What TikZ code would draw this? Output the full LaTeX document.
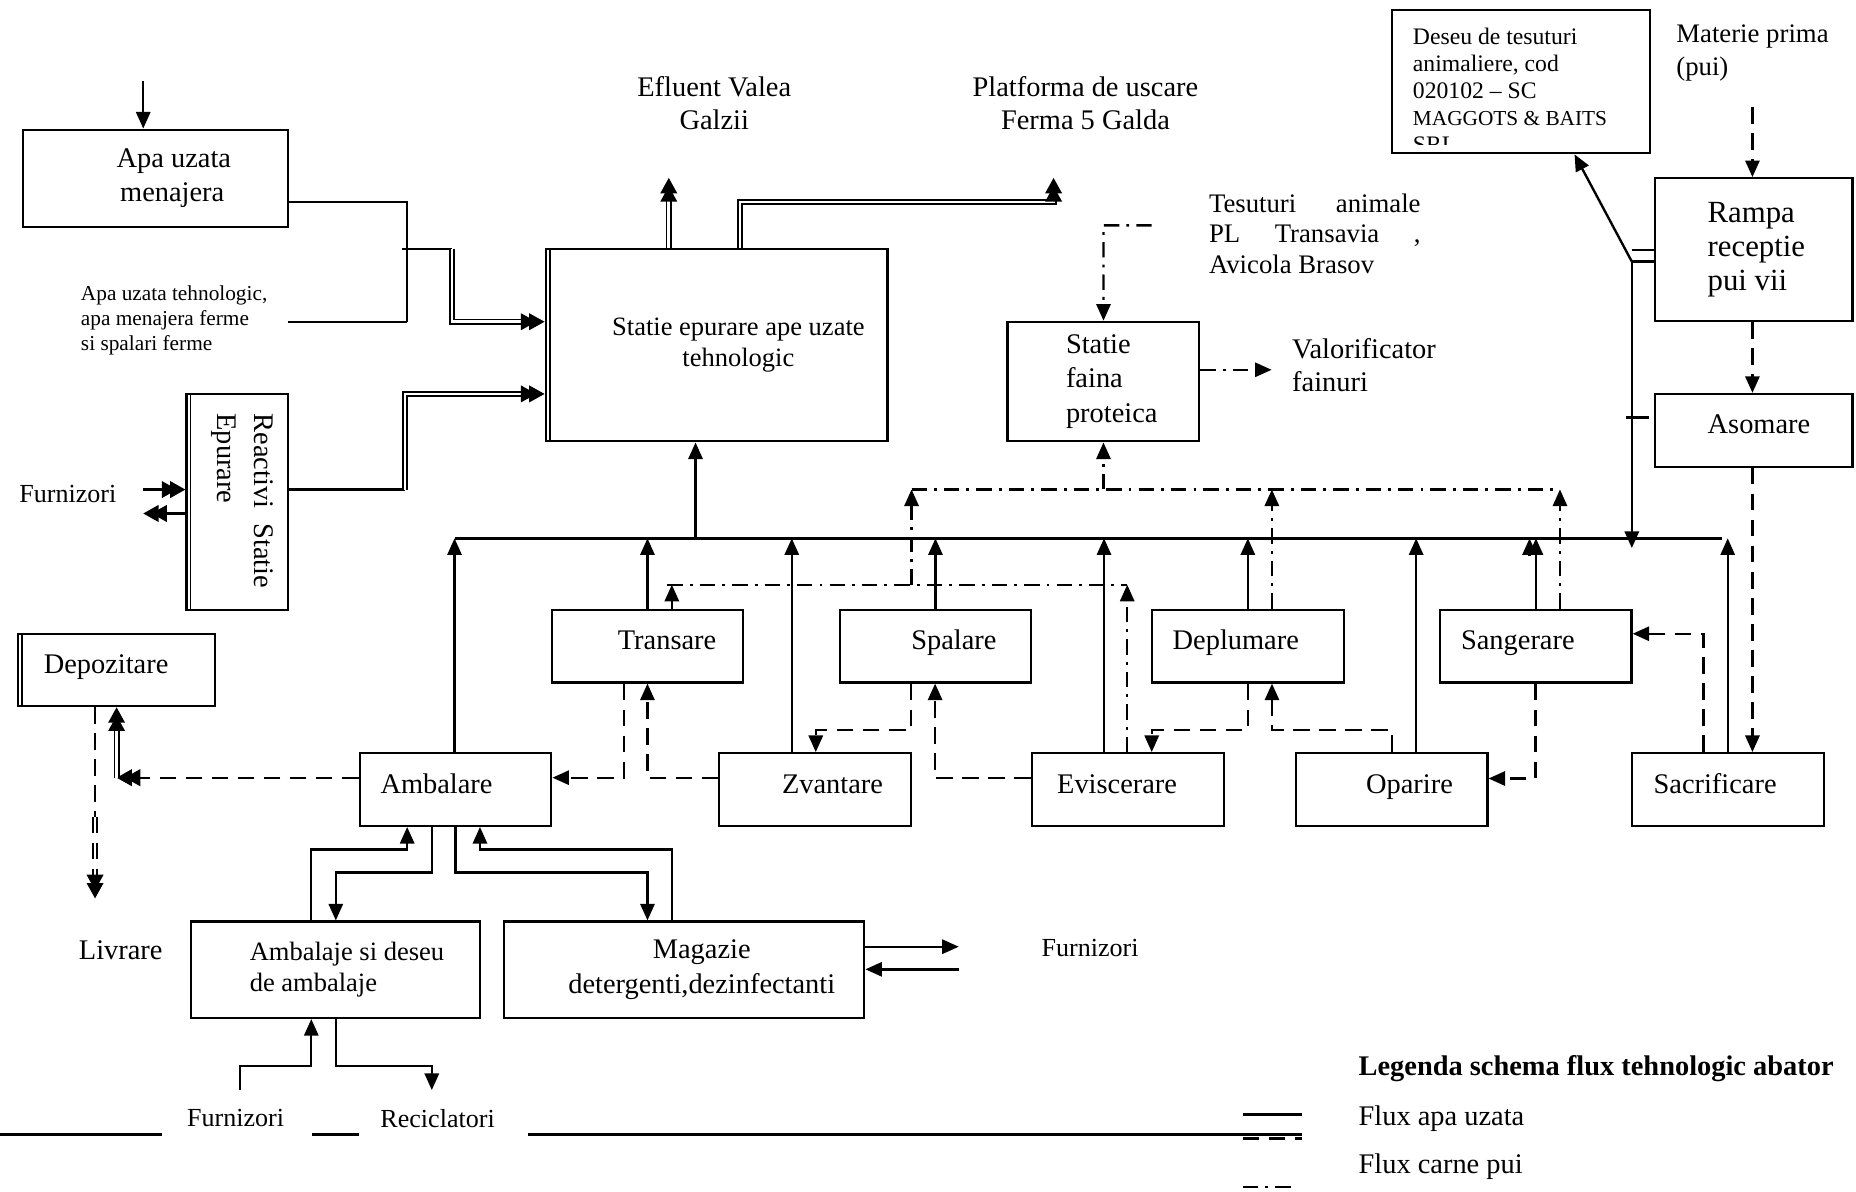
\documentclass[tikz,border=0pt]{standalone}
\usepackage{fontspec}
\setmainfont{Liberation Serif}
\usetikzlibrary{arrows.meta}
\tikzset{
  box/.style={
    % The shape:
    shape=rectangle,inner sep=0pt,
    % The border:
    draw=black,line width=0.9pt,
    % The text:
    align=flush left,font=\fontsize{12}{14.4}\selectfont}}
\tikzset{
  rowbox/.style={
    % one step of the line, one box
    box,text width=81pt,minimum height=30.75pt,
    text height=8pt,text depth=5pt}}
\tikzset{
  lbl/.style={inner sep=0pt,align=flush center,font=\fontsize{12}{13.8}\selectfont},
  smlbl/.style={lbl,font=\fontsize{11}{13}\selectfont},
  fir/.style={line width=1pt},
  % Flux apa uzata
  apaflux/.style={fir,-{Triangle[length=7pt,width=6pt]}},
  % Flux carne pui
  carneflux/.style={fir,dash pattern=on 7pt off 4pt,-{Triangle[length=7pt,width=6pt]}},
  % Flux deseuri
  deseuflux/.style={fir,dash pattern=on 6.5pt off 3pt on 1.2pt off 3pt,-{Triangle[length=7pt,width=6pt]}},
  dbl/.style={double,double distance=1.1pt,line width=0.7pt},
  twotips/.style={-{Triangle[length=6.5pt,width=7pt,sep=-3pt]Triangle[length=6.5pt,width=7pt]}}}

\begin{document}
\begin{tikzpicture}[x=0.5pt,y=-0.5pt]
	\useasboundingbox (0,0) rectangle (1568,1007);
	% Boxes on the left
	\node[box,text width=111.75pt,minimum height=41pt] (apamen) at (131.3,150.5)
		{\hspace*{39.5pt}Apa uzata\\\hspace*{41pt}menajera};
	\node[box,minimum width=42.75pt,minimum height=91.1pt] (reactivi) at (200.3,423.9) {};
	\node[rotate=-90,text width=73.8pt,align=flush left,inner sep=0pt,font=\fontsize{12}{15.5}\selectfont]
		(reactivitxt) at (204.5,423.2) {Reactivi\hfill Statie\\Epurare};
	\node[box,text width=83.5pt,minimum height=30.65pt,text height=8pt,text depth=5pt]
		(depozitare) at (98.5,566) {\hspace*{11pt}Depozitare};
	% Statii
	\node[box,align=flush center,text width=144.4pt,minimum height=81.15pt,font=\fontsize{11.2}{13.2}\selectfont]
		(epurare) at (605.4,291.75) {\hspace*{18.4pt}Statie epurare ape uzate\\\hspace*{18.4pt}tehnologic};
	\node[box,text width=81.05pt,minimum height=50.55pt] (faina) at (932.25,322.35)
		{\hspace*{24.7pt}Statie\\\hspace*{24.7pt}faina\\\hspace*{24.7pt}proteica};
	\node[box,text width=108.85pt,minimum height=60.7pt] (deseu) at (1284.85,68.8) {};
	\begin{scope}
		\clip (deseu.north west) rectangle ([yshift=4pt]deseu.south east);
		\node[anchor=north west,inner sep=0pt,align=flush left,font=\fontsize{10}{11.4}\selectfont]
			(deseutxt) at (1193.3,23.5) {Deseu de tesuturi\\animaliere, cod\\020102 -- SC\\{\fontsize{9}{11}\selectfont MAGGOTS \& BAITS}\\SRL};
	\end{scope}
	\node[box,text width=83.35pt,minimum height=60.4pt,font=\fontsize{13}{14.2}\selectfont]
		(rampa) at (1481.65,210.9) {\hspace*{22.2pt}Rampa\\\hspace*{22.2pt}receptie\\\hspace*{22.2pt}pui vii\\[5pt]};
	\node[box,text width=83.35pt,minimum height=30.75pt,text height=8pt,text depth=5pt]
		(asomare) at (1481.65,363.55) {\hspace*{22.2pt}Asomare};
	% First row
	\node[rowbox] (transare) at (547,545.85) {\hspace*{28pt}Transare};
	\node[rowbox] (spalare) at (790.3,545.85) {\hspace*{30.3pt}Spalare};
	\node[rowbox] (deplumare) at (1054.2,545.85) {\hspace*{8.75pt}Deplumare};
	\node[rowbox] (sangerare) at (1297.35,545.85) {\hspace*{9pt}Sangerare};
	% Second row
	\node[rowbox] (ambalare) at (384.8,667) {\hspace*{8.85pt}Ambalare};
	\node[rowbox] (zvantare) at (688.7,667) {\hspace*{26.5pt}Zvantare};
	\node[rowbox] (eviscerare) at (952.8,667) {\hspace*{10.65pt}Eviscerare};
	\node[rowbox] (oparire) at (1175.65,667) {\hspace*{29.75pt}Oparire};
	\node[rowbox] (sacrificare) at (1460,667) {\hspace*{9pt}Sacrificare};
	% Bottom boxes
	\node[box,text width=122.05pt,minimum height=40.75pt,font=\fontsize{11.2}{13.2}\selectfont]
		(ambalaje) at (283.45,819.25) {\hspace*{24.8pt}Ambalaje si deseu\\\hspace*{24.8pt}de ambalaje};
	\node[box,align=flush center,text width=152.35pt,minimum height=40.75pt,font=\fontsize{12}{14.5}\selectfont]
		(magazie) at (577.85,819.25) {\hspace*{15pt}Magazie\\\hspace*{15pt}detergenti,dezinfectanti};
	% Double edges
	\draw[line width=0.6pt] ([xshift=2.3pt]epurare.north west) -- ([xshift=2.3pt]epurare.south west);
	\draw[line width=0.6pt] ([xshift=2.1pt]reactivi.north west) -- ([xshift=2.1pt]reactivi.south west);
	\draw[line width=0.6pt] ([xshift=2.3pt]depozitare.north west) -- ([xshift=2.3pt]depozitare.south west);

	% Free texts
	\node[lbl,font=\fontsize{9}{10.5}\selectfont,align=flush left,anchor=west] (tehnologic) at (68,270.5)
		{Apa uzata tehnologic,\\apa menajera ferme\\si spalari ferme};
	\node[smlbl] (furnA) at (57.3,417) {Furnizori};
	\node[lbl] (efluent) at (603.4,87) {Efluent Valea\\Galzii};
	\node[lbl] (platforma) at (917,87) {Platforma de uscare\\Ferma 5 Galda};
	\node[lbl,anchor=west,align=flush left,text width=89.35pt,font=\fontsize{11.3}{13}\selectfont]
		(tesuturi) at (1021,197.5) {Tesuturi\hfill animale\\PL\hfill Transavia\hfill ,\\Avicola Brasov};
	\node[lbl,anchor=west,align=flush left,font=\fontsize{11.3}{13.8}\selectfont] (materie) at (1415.8,44.5) {Materie prima\\(pui)};
	\node[lbl,anchor=west,align=flush left,font=\fontsize{12}{13.7}\selectfont] (valor) at (1091.3,308.3) {Valorificator\\fainuri};
	\node[lbl] (livrare) at (102,802.7) {Livrare};
	\node[smlbl] (furnC) at (921,801) {Furnizori};
	\node[smlbl] (furnB) at (199,944.7) {Furnizori};
	\node[smlbl] (recicl) at (369.7,944.7) {Reciclatori};
	% Legend
	\node[lbl,anchor=west,font=\bfseries\fontsize{12}{14}\selectfont] (legtitlu) at (1147.4,903) {Legenda schema flux tehnologic abator};
	\node[lbl,anchor=west] (legapa) at (1147.4,945) {Flux apa uzata};
	\node[lbl,anchor=west] (legcarne) at (1147.4,985.8) {Flux carne pui};
	\draw[fir] (1050,941.5) -- (1099.6,941.5);
	\draw[carneflux,-] (1050,961.9) -- (1099.6,961.9);
	\draw[deseuflux,-] (1050,1003) -- (1092,1003);
	% Bottom line
	\draw[fir] (0,958.3) -- (136.5,958.3);
	\draw[fir] (264,958.3) -- (303.7,958.3);
	\draw[fir] (446,958.3) -- (1099.6,958.3);

	% Free ends
	\coordinate (apain) at (121,68.8);
	\coordinate (tehin) at (243,271.8);
	\coordinate (furnout) at (121,413.6);
	\coordinate (furnback) at (121,433.8);
	\coordinate (eflin) at (565,150.3);
	\coordinate (platin) at (890.1,150.3);
	\coordinate (tesin) at (973,190.4);
	\coordinate (valin) at (1074.3,312.4);
	\coordinate (matin) at (1480.5,90.6);
	\coordinate (livin) at (80.3,759);
	\coordinate (fbout) at (202.6,920.9);
	\coordinate (recin) at (364.8,920.9);
	\coordinate (magout) at (810,799.8);
	\coordinate (magback) at (810,818.9);
	% Water bus
	\coordinate (busL) at (384,454.8);
	\coordinate (busR) at (1455,454.8);
	\coordinate (ramj) at (1378.6,221);
	\coordinate (depcol) at (98.5,657);
	% Lines for waste
	\coordinate (upL) at (770.1,413.5);
	\coordinate (upR) at (1317.9,413.5);
	\coordinate (loL) at (563.8,494);
	\coordinate (loR) at (952.3,494);

	% Lines into the station
	\draw[apaflux] (apain) -- (apain |- apamen.north);
	\draw[fir] (apamen.east |- 0,170.5) -- (344,170.5) -- (344,271.8);
	\draw[fir] (tehin) -- (344,271.8);
	\draw[fir] (340,210.6) -- (382,210.6);
	\draw[dbl,twotips] (382,210.6) -- (382,271.8) -- (epurare.west |- 0,271.8);
	\draw[fir] (reactivi.east |- 0,413.6) -- (342,413.6);
	\draw[dbl,twotips] (342,413.6) -- (342,332.8) -- (epurare.west |- 0,332.8);
	\draw[fir,twotips] (furnout) -- (reactivi.west |- furnout);
	\draw[fir,twotips] (reactivi.west |- furnback) -- (furnback);
	% Lines out of the station
	\draw[dbl,twotips] (epurare.north -| eflin) -- (eflin);
	\draw[dbl,twotips] (epurare.north -| 625.3,0) -- (625.3,170.5) -- (890.1,170.5) -- (platin);
	\draw[apaflux] (busL -| 587.6,0) -- (epurare.south -| 587.6,0);
	% Water bus
	\draw[fir] (busL) -- (busR);
	\draw[apaflux] (ambalare.north -| busL) -- (busL);
	\draw[apaflux] (transare.north) -- (transare.north |- busL);
	\draw[apaflux] (zvantare.north -| 668.9,0) -- (busL -| 668.9,0);
	\draw[apaflux] (spalare.north) -- (spalare.north |- busL);
	\draw[apaflux] (eviscerare.north -| 932.7,0) -- (busL -| 932.7,0);
	\draw[apaflux] (deplumare.north) -- (deplumare.north |- busL);
	\draw[apaflux] (oparire.north -| 1196.4,0) -- (busL -| 1196.4,0);
	\draw[apaflux] (sangerare.north -| 1297.6,0) -- (busL -| 1297.6,0);
	\draw[apaflux] (1292.2,470) -- (1292.2,454.8);
	\draw[apaflux] (sacrificare.north -| 1459.6,0) -- (busL -| 1459.6,0);
	% Lines out of rampa
	\draw[fir] (ramj) -- (rampa.west |- ramj);
	\draw[fir] (1378.6,211) -- (rampa.west |- 0,211);
	\draw[apaflux] (ramj) -- (deseu.south -| 1330.2,0);
	\draw[apaflux] (ramj) -- (1378.6,463);
	\draw[fir] (1374,352.8) -- ([xshift=-2.3pt]asomare.west |- 0,352.8);

	% Lines for carne pui
	\draw[carneflux] (matin) -- (rampa.north -| matin);
	\draw[carneflux] (rampa.south -| matin) -- (asomare.north -| matin);
	\draw[carneflux] (asomare.south -| matin) -- (sacrificare.north -| matin);
	\draw[carneflux] (sacrificare.north -| 1439,0) |- (sangerare.east |- 0,535.4);
	\draw[carneflux] (sangerare.south) |- (oparire.east |- 0,657.7);
	\draw[carneflux] (oparire.north -| 1175.9,0) |- (1074.6,616.8) -- (deplumare.south -| 1074.6,0);
	\draw[carneflux] (deplumare.south) |- (973,616.7) -- (eviscerare.north -| 973,0);
	\draw[carneflux] (eviscerare.west |- 0,657.5) -| (spalare.south -| 790,0);
	\draw[carneflux] (spalare.south -| 769.8,0) |- (689.2,616.7) -- (zvantare.north -| 689.2,0);
	\draw[carneflux] (zvantare.west |- 0,657.5) -| (transare.south);
	\draw[carneflux] (transare.south -| 527,0) |- (ambalare.east |- 0,657);
	\draw[carneflux,twotips] (ambalare.west |- depcol) -- (depcol);
	\draw[dbl,twotips] (depcol) -- (depozitare.south -| depcol);
	\draw[carneflux,-] (depozitare.south -| livin) -- (80.3,690);
	\draw[carneflux,dbl,twotips] (80.3,690) -- (livin);

	% Lines out of ambalare
	\draw[apaflux] (ambalaje.north -| 263,0) |- (344,717.6) -- (ambalare.south -| 344,0);
	\draw[apaflux] (ambalare.south -| 364.8,0) |- (283.7,737) -- (ambalaje.north -| 283.7,0);
	\draw[apaflux] (ambalare.south) |- (547,737) -- (magazie.north -| 547,0);
	\draw[apaflux] (magazie.north -| 567.7,0) |- (405.5,717.6) -- (ambalare.south -| 405.5,0);
	\draw[apaflux] (magazie.east |- magout) -- (magout);
	\draw[apaflux] (magback) -- (magazie.east |- magback);
	\draw[apaflux] (fbout) |- (263,900.4) -- (ambalaje.south -| 263,0);
	\draw[apaflux] (ambalaje.south -| 283.7,0) |- (364.8,900.4) -- (recin);

	% Lines for deseuri
	\draw[deseuflux] (tesin) -- (932.3,190.4) -- (faina.north);
	\draw[deseuflux] (faina.east |- valin) -- (valin);
	\draw[deseuflux,-] (upL) -- (upR);
	\draw[deseuflux] (upL -| faina.south) -- (faina.south);
	\draw[deseuflux] (sangerare.north -| upR) -- (upR);
	\draw[deseuflux] (deplumare.north -| 1074.5,0) -- (upL -| 1074.5,0);
	\draw[deseuflux,-] (loL) -- (loR);
	\draw[deseuflux] (transare.north -| 567.6,0) -- (loL -| 567.6,0);
	\draw[deseuflux] (eviscerare.north -| loR) -- (loR);
	\draw[deseuflux] (loL -| upL) -- (upL);
\end{tikzpicture}
\end{document}
